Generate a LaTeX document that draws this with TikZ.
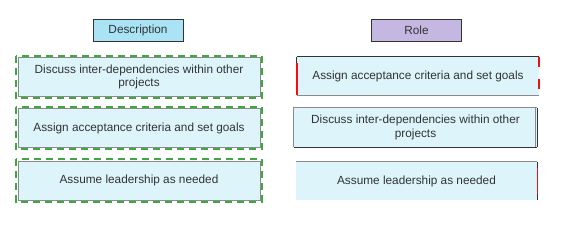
\documentclass[tikz,border=0pt]{standalone}
\usepackage{fontspec}
\setmainfont{Liberation Sans}
\definecolor{cellfill}{HTML}{DCF4FA}
\definecolor{descfill}{HTML}{A9E3F5}
\definecolor{rolefill}{HTML}{C4B8E2}
\definecolor{txt}{HTML}{333333}
\definecolor{darkedge}{HTML}{333333}
\definecolor{grayedge}{HTML}{8A8A8A}
\definecolor{greenline}{HTML}{3FA83F}
\definecolor{redline}{HTML}{F01010}
\begin{document}
\begin{tikzpicture}[x=1pt,y=-1pt,
  font=\fontsize{11.8}{13.6}\selectfont, text=txt,
  hdr/.style={draw=darkedge, line width=0.8pt, minimum width=90pt, minimum height=22pt, inner sep=0pt},
  cell/.style={fill=cellfill, minimum width=242pt, minimum height=39pt, inner sep=2pt, align=center},
  greendash/.style={draw=greenline, line width=2.2pt, dash pattern=on 7pt off 5pt},
  thinedge/.style={line width=0.7pt},
  rededge/.style={draw=redline, line width=1.6pt}
]
\useasboundingbox (0,0) rectangle (563,227);
% left column
\node[hdr, fill=descfill] (dh) at (138,30) {Description};
\node[cell, draw=grayedge, thinedge] (d1) at (139,77) {Discuss inter-dependencies within other\\projects};
\node[cell, draw=grayedge, thinedge] (d2) at (139,128) {Assign acceptance criteria and set goals};
\node[cell, draw=grayedge, thinedge] (d3) at (139,180.5) {Assume leadership as needed};
\foreach \n in {d1,d2,d3}
  \draw[greendash] ([shift={(-1.5,-1.5)}]\n.north west) rectangle ([shift={(1.5,1.5)}]\n.south east);
% right column
\node[hdr, fill=rolefill] (rh) at (416.5,30) {Role};
\node[cell, minimum width=242pt, minimum height=38pt] (r1) at (418,76) {Assign acceptance criteria and set goals};
\node[cell, minimum width=243pt, minimum height=39pt] (r2) at (415.5,127.5) {Discuss inter-dependencies within other\\projects};
\node[cell, minimum width=241pt, minimum height=38pt] (r3) at (416.5,181) {Assume leadership as needed};
% r1 edges
\draw[darkedge, thinedge] (r1.north west) -- (r1.north east);
\draw[grayedge, thinedge] (r1.south west) -- (r1.south east);
\draw[darkedge, thinedge] (r1.north west) -- ([yshift=-6pt]r1.north west);
\draw[rededge] ([yshift=-6pt]r1.north west) -- (r1.south west);
\draw[rededge, dash pattern=on 10pt off 12pt] (r1.north east) -- (r1.south east);
% r2 edges
\draw[grayedge, thinedge] (r2.south west) -- (r2.north west) -- (r2.north east);
\draw[darkedge, thinedge] (r2.south west) -- (r2.south east);
\draw[darkedge, thinedge] (r2.north east) -- (r2.south east);
\draw[grayedge, line width=0.9pt] ([xshift=-1.5pt]r2.north east) -- ([xshift=-1.5pt]r2.south east);
% r3 edges
\draw[grayedge, thinedge] (r3.north west) -- (r3.north east);
\draw[darkedge, thinedge] (r3.north east) -- (r3.south east);
\draw[rededge, line width=1.1pt] ([yshift=-6pt]r3.north east) -- ([yshift=6pt]r3.south east);
\end{tikzpicture}
\end{document}
